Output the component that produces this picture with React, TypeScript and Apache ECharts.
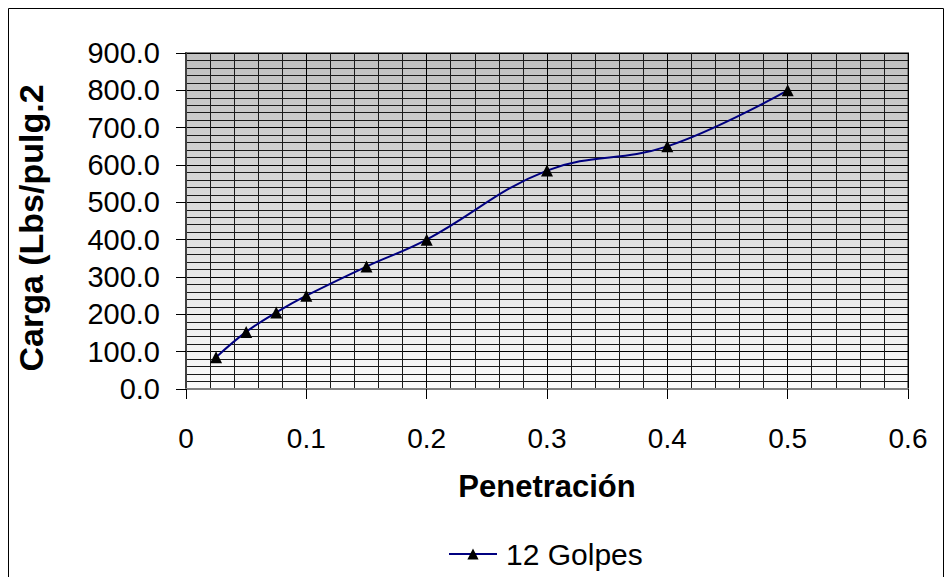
import React, { useEffect, useRef } from "react";
import * as echarts from "echarts";

const penetracion = [0.025, 0.05, 0.075, 0.1, 0.15, 0.2, 0.3, 0.4, 0.5];
const carga = [85, 153, 205, 250, 328, 400, 585, 650, 800];
const seriesName = "12 Golpes";
const xTitle = "Penetración";
const yTitle = "Carga (Lbs/pulg.2";

export default function App() {
  const ref = useRef<HTMLDivElement>(null);
  useEffect(() => {
    if (!ref.current) return;
    const chart = echarts.init(ref.current, null, { renderer: "svg" });
    const font = "Arial, 'Liberation Sans', sans-serif";
    chart.setOption({
      animation: false,
      backgroundColor: "#ffffff",
      textStyle: { fontFamily: font },
      graphic: [
        {
          type: "rect",
          shape: { x: 8.5, y: 8.5, width: 935, height: 600 },
          style: { fill: "none", stroke: "#000", lineWidth: 1 },
          silent: true,
          z: -10,
        },
        {
          type: "text",
          x: 31,
          y: 228,
          rotation: Math.PI / 2,
          silent: true,
          style: {
            text: yTitle,
            fontSize: 34,
            fontWeight: "bold",
            fontFamily: font,
            fill: "#000",
            align: "center",
            verticalAlign: "middle",
          },
        },
      ],
      grid: {
        left: 186,
        right: 37,
        top: 53,
        bottom: 188,
        show: true,
        borderColor: "#808080",
        borderWidth: 2,
        backgroundColor: new echarts.graphic.LinearGradient(0, 0, 0, 1, [
          { offset: 0, color: "#c0c0c0" },
          { offset: 1, color: "#fafafa" },
        ]),
      },
      legend: {
        bottom: 3,
        left: 443,
        itemWidth: 48,
        itemHeight: 14,
        itemGap: 10,
        textStyle: { fontSize: 30, color: "#000", fontFamily: font, padding: [0, 0, 0, 4] },
        data: [seriesName],
      },
      xAxis: {
        type: "value",
        min: 0,
        max: 0.6,
        interval: 0.1,
        name: xTitle,
        nameLocation: "middle",
        nameGap: 82,
        nameTextStyle: { fontSize: 31, fontWeight: "bold", color: "#000", fontFamily: font, verticalAlign: "top" },
        axisLine: { show: true, lineStyle: { color: "#808080", width: 2 } },
        axisTick: { show: true, inside: false, length: 10, lineStyle: { color: "#000", width: 1 } },
        axisLabel: {
          fontSize: 28,
          color: "#000",
          margin: 35,
          fontFamily: font,
          formatter: (v: number) => (v === 0 ? "0" : v.toFixed(1)),
        },
        splitLine: { show: true, lineStyle: { color: "#000", width: 1 } },
        minorTick: { show: false, splitNumber: 5 },
        minorSplitLine: { show: true, lineStyle: { color: "#1a1a1a", width: 1 } },
      },
      yAxis: {
        type: "value",
        min: 0,
        max: 900,
        interval: 100,
        axisLine: { show: true, lineStyle: { color: "#404040", width: 2 } },
        axisTick: { show: true, inside: false, length: 10, lineStyle: { color: "#000", width: 1 } },
        axisLabel: {
          fontSize: 29,
          color: "#000",
          margin: 26,
          fontFamily: font,
          formatter: (v: number) => v.toFixed(1),
        },
        splitLine: { show: true, lineStyle: { color: "#000", width: 1 } },
        minorTick: { show: false, splitNumber: 5 },
        minorSplitLine: { show: true, lineStyle: { color: "#1a1a1a", width: 1 } },
      },
      series: [
        {
          name: seriesName,
          type: "line",
          data: penetracion.map((x, i) => [x, carga[i]]),
          smooth: 0.4,
          symbol: "triangle",
          symbolSize: 12,
          itemStyle: { color: "#000" },
          lineStyle: { color: "#000080", width: 2 },
          z: 5,
        },
      ],
    });
    return () => chart.dispose();
  }, []);
  return (
    <div
      ref={ref}
      style={{ position: "fixed", left: 0, top: 0, width: 945, height: 577 }}
    />
  );
}
